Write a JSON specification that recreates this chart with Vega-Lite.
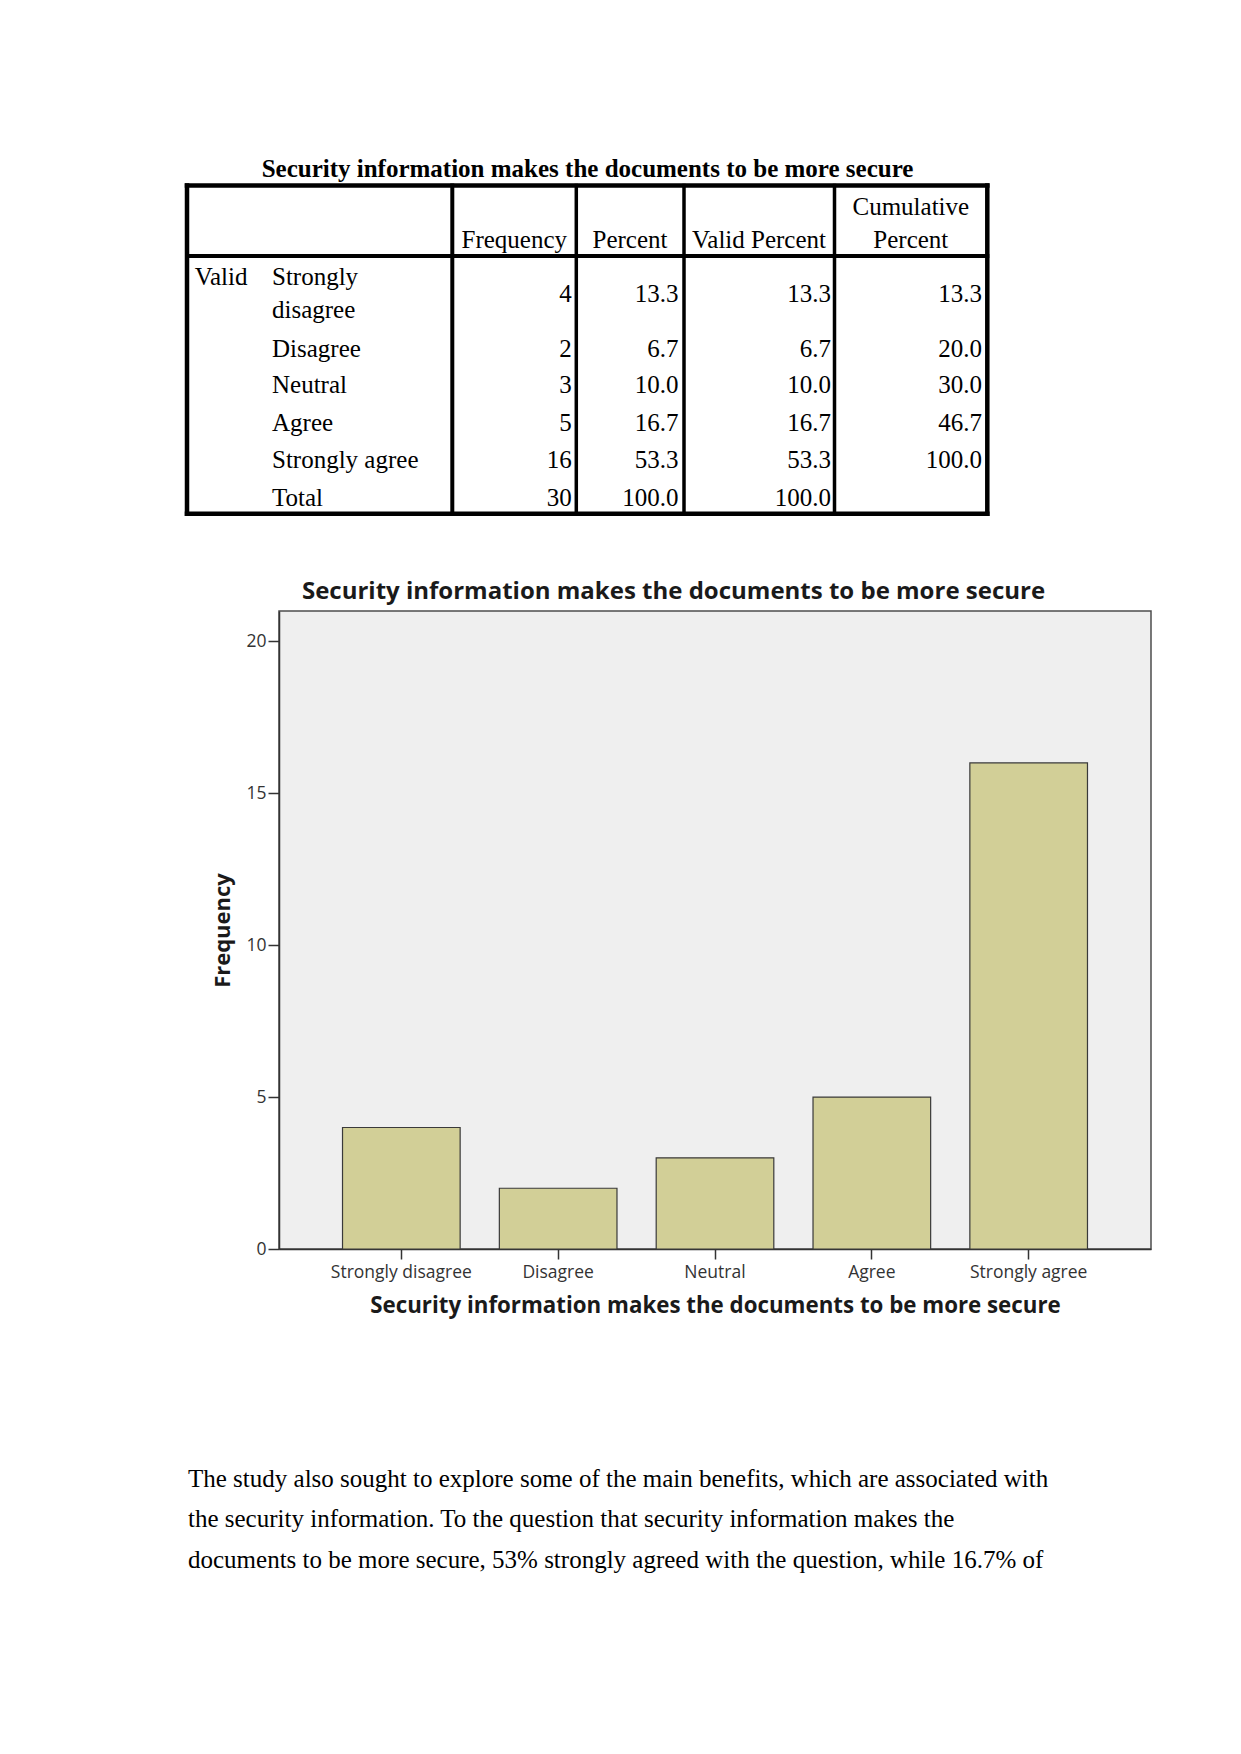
{
  "$schema": "https://vega.github.io/schema/vega-lite/v6.json",
  "width": 872,
  "height": 638,
  "autosize": {"type": "none"},
  "padding": {"left": 279, "top": 611, "right": 90, "bottom": 505},
  "background": "#ffffff",
  "config": {
    "view": {"fill": "#efefef", "stroke": "#4d4d4d", "strokeWidth": 1.5},
    "text": {"font": "Liberation Serif", "fontSize": 25, "color": "#000000"}
  },
  "datasets": {
    "rows": [
      {"answer": "Strongly disagree", "label": "Strongly\ndisagree", "frequency": 4, "percent": 13.3, "valid": 13.3, "cumulative": 13.3},
      {"answer": "Disagree", "label": "Disagree", "frequency": 2, "percent": 6.7, "valid": 6.7, "cumulative": 20.0},
      {"answer": "Neutral", "label": "Neutral", "frequency": 3, "percent": 10.0, "valid": 10.0, "cumulative": 30.0},
      {"answer": "Agree", "label": "Agree", "frequency": 5, "percent": 16.7, "valid": 16.7, "cumulative": 46.7},
      {"answer": "Strongly agree", "label": "Strongly agree", "frequency": 16, "percent": 53.3, "valid": 53.3, "cumulative": 100.0},
      {"answer": "Total", "label": "Total", "frequency": 30, "percent": 100.0, "valid": 100.0, "cumulative": null}
    ],
    "paragraph": [
      {"text": "The study also sought to explore some of the main benefits, which are associated with"},
      {"text": "the security information. To the question that security information makes the"},
      {"text": "documents to be more secure, 53% strongly agreed with the question, while 16.7% of"}
    ]
  },
  "layer": [
    {
      "data": {"name": "rows"},
      "transform": [{"filter": "datum.answer !== 'Total'"}],
      "mark": {"type": "bar", "fill": "#d2cf97", "stroke": "#3a3a3a", "strokeWidth": 1.2},
      "encoding": {
        "x": {
          "field": "answer", "type": "nominal", "sort": null,
          "scale": {"paddingInner": 0.25, "paddingOuter": 0.405},
          "axis": {
            "title": "Security information makes the documents to be more secure",
            "labelAngle": 0, "labelFont": "Open Sans", "labelFontSize": 17.5, "labelColor": "#333333",
            "tickSize": 10, "tickColor": "#333333", "tickWidth": 1.5,
            "domainColor": "#333333", "domainWidth": 1.5, "labelPadding": 4,
            "titleFont": "Open Sans", "titleFontSize": 22.3, "titleFontWeight": "bold", "titleColor": "#1a1a1a", "titlePadding": 14
          }
        },
        "y": {
          "field": "frequency", "type": "quantitative",
          "scale": {"domain": [0, 21], "nice": false},
          "axis": {
            "values": [0, 5, 10, 15, 20], "title": "Frequency", "grid": false,
            "tickSize": 11, "labelPadding": 2, "labelFont": "Open Sans", "labelFontSize": 17.5, "labelColor": "#333333",
            "tickColor": "#333333", "tickWidth": 1.5, "domainColor": "#333333", "domainWidth": 1.5,
            "titleFont": "Open Sans", "titleFontSize": 22, "titleFontWeight": "bold", "titleColor": "#1a1a1a", "titlePadding": 11
          }
        }
      }
    },
    {
      "data": {"values": [{"t": "Security information makes the documents to be more secure"}]},
      "mark": {"type": "text", "align": "center", "baseline": "alphabetic", "font": "Open Sans", "fontSize": 24, "fontWeight": "bold", "color": "#1a1a1a"},
      "encoding": {
        "x": {"datum": 0, "type": "quantitative", "scale": {"domain": [0, 1], "range": [394.5, 872], "nice": false, "zero": false}, "axis": null},
        "y": {"datum": 0, "type": "quantitative", "scale": {"domain": [0, 1], "range": [-12, 0], "nice": false, "zero": false}, "axis": null},
        "text": {"field": "t"}
      }
    },
    {
      "data": {"values": [
        {"edge": "left", "w": "outer"},
        {"edge": "label|frequency", "w": "thick"},
        {"edge": "frequency|percent", "w": "thin"},
        {"edge": "percent|valid percent", "w": "thin"},
        {"edge": "valid percent|cumulative", "w": "thin"},
        {"edge": "right", "w": "outer"}
      ]},
      "transform": [{"window": [{"op": "row_number", "as": "i"}]}],
      "mark": {"type": "rule", "color": "#000000", "strokeCap": "square"},
      "encoding": {
        "x": {"field": "i", "type": "quantitative", "scale": {"domain": [1, 2, 3, 4, 5, 6], "range": [-92, 173.3, 297.3, 405, 555.5, 708.3], "nice": false, "zero": false}, "axis": null},
        "y": {"datum": 0, "type": "quantitative", "scale": {"domain": [0, 1], "range": [-425.5, -97.2], "nice": false, "zero": false}, "axis": null},
        "y2": {"datum": 1},
        "strokeWidth": {"field": "w", "type": "nominal", "scale": {"domain": ["outer", "thick", "thin"], "range": [4.5, 3.5, 2.5]}, "legend": null}
      }
    },
    {
      "data": {"values": [
        {"edge": "top", "w": "outer"},
        {"edge": "header", "w": "thick"},
        {"edge": "bottom", "w": "outer"}
      ]},
      "transform": [{"window": [{"op": "row_number", "as": "i"}]}],
      "mark": {"type": "rule", "color": "#000000", "strokeCap": "square"},
      "encoding": {
        "y": {"field": "i", "type": "quantitative", "scale": {"domain": [1, 2, 3], "range": [-425.5, -355, -97.2], "nice": false, "zero": false}, "axis": null},
        "x": {"datum": 0, "type": "quantitative", "scale": {"domain": [0, 1], "range": [-92, 708.3], "nice": false, "zero": false}, "axis": null},
        "x2": {"datum": 1},
        "strokeWidth": {"field": "w", "type": "nominal", "scale": {"domain": ["outer", "thick", "thin"], "range": [4.5, 3.5, 2.5]}, "legend": null}
      }
    },
    {
      "data": {"values": [{"t": "Security information makes the documents to be more secure"}]},
      "mark": {"type": "text", "align": "center", "baseline": "alphabetic", "fontWeight": "bold"},
      "encoding": {
        "x": {"datum": 6, "type": "quantitative", "scale": {"domain": [0, 1, 2, 3, 4, 5, 6], "range": [-84.3, -7, 292.7, 399.4, 551.9, 703, 308.5], "nice": false, "zero": false}, "axis": null},
        "y": {"datum": 0, "type": "quantitative", "scale": {"domain": [0, 1], "range": [-434.3, -396], "nice": false, "zero": false}, "axis": null},
        "text": {"field": "t"}
      }
    },
    {
      "data": {"values": [{"h": "Frequency"}, {"h": "Percent"}, {"h": "Valid Percent"}, {"h": "Cumulative\nPercent"}]},
      "transform": [{"window": [{"op": "row_number", "as": "i"}]}],
      "mark": {"type": "text", "align": "center", "baseline": "alphabetic", "lineBreak": "\n", "lineHeight": 32.7},
      "encoding": {
        "x": {"field": "i", "type": "quantitative", "scale": {"domain": [1, 2, 3, 4], "range": [235.3, 351, 480, 631.8], "nice": false, "zero": false}, "axis": null},
        "y": {"field": "i", "type": "quantitative", "scale": {"domain": [1, 2, 3, 4], "range": [-363.3, -363.3, -363.3, -396], "nice": false, "zero": false}, "axis": null},
        "text": {"field": "h"}
      }
    },
    {
      "data": {"values": [{"stub": "Valid"}]},
      "mark": {"type": "text", "align": "left", "baseline": "alphabetic"},
      "encoding": {
        "x": {"datum": 0, "type": "quantitative", "scale": {"domain": [0, 1, 2, 3, 4, 5, 6], "range": [-84.3, -7, 292.7, 399.4, 551.9, 703, 308.5], "nice": false, "zero": false}, "axis": null},
        "y": {"datum": 1, "type": "quantitative", "scale": {"domain": [1, 2, 3, 4, 5, 6], "range": [-326, -254.3, -217.7, -180, -142.7, -105], "nice": false, "zero": false}, "axis": null},
        "text": {"field": "stub"}
      }
    },
    {
      "data": {"name": "rows"},
      "transform": [{"window": [{"op": "row_number", "as": "i"}]}],
      "mark": {"type": "text", "align": "left", "baseline": "alphabetic", "lineBreak": "\n", "lineHeight": 33.3},
      "encoding": {
        "x": {"datum": 1, "type": "quantitative", "scale": {"domain": [0, 1, 2, 3, 4, 5, 6], "range": [-84.3, -7, 292.7, 399.4, 551.9, 703, 308.5], "nice": false, "zero": false}, "axis": null},
        "y": {"field": "i", "type": "quantitative", "scale": {"domain": [1, 2, 3, 4, 5, 6], "range": [-326, -254.3, -217.7, -180, -142.7, -105], "nice": false, "zero": false}, "axis": null},
        "text": {"field": "label"}
      }
    },
    {
      "data": {"name": "rows"},
      "transform": [{"window": [{"op": "row_number", "as": "i"}]}],
      "mark": {"type": "text", "align": "right", "baseline": "alphabetic"},
      "encoding": {
        "x": {"datum": 2, "type": "quantitative", "scale": {"domain": [0, 1, 2, 3, 4, 5, 6], "range": [-84.3, -7, 292.7, 399.4, 551.9, 703, 308.5], "nice": false, "zero": false}, "axis": null},
        "y": {"field": "i", "type": "quantitative", "scale": {"domain": [1, 2, 3, 4, 5, 6], "range": [-309.3, -254.3, -217.7, -180, -142.7, -105], "nice": false, "zero": false}, "axis": null},
        "text": {"field": "frequency", "type": "quantitative", "format": "d"}
      }
    },
    {
      "data": {"name": "rows"},
      "transform": [{"window": [{"op": "row_number", "as": "i"}]}],
      "mark": {"type": "text", "align": "right", "baseline": "alphabetic"},
      "encoding": {
        "x": {"datum": 3, "type": "quantitative", "scale": {"domain": [0, 1, 2, 3, 4, 5, 6], "range": [-84.3, -7, 292.7, 399.4, 551.9, 703, 308.5], "nice": false, "zero": false}, "axis": null},
        "y": {"field": "i", "type": "quantitative", "scale": {"domain": [1, 2, 3, 4, 5, 6], "range": [-309.3, -254.3, -217.7, -180, -142.7, -105], "nice": false, "zero": false}, "axis": null},
        "text": {"field": "percent", "type": "quantitative", "format": ".1f"}
      }
    },
    {
      "data": {"name": "rows"},
      "transform": [{"window": [{"op": "row_number", "as": "i"}]}],
      "mark": {"type": "text", "align": "right", "baseline": "alphabetic"},
      "encoding": {
        "x": {"datum": 4, "type": "quantitative", "scale": {"domain": [0, 1, 2, 3, 4, 5, 6], "range": [-84.3, -7, 292.7, 399.4, 551.9, 703, 308.5], "nice": false, "zero": false}, "axis": null},
        "y": {"field": "i", "type": "quantitative", "scale": {"domain": [1, 2, 3, 4, 5, 6], "range": [-309.3, -254.3, -217.7, -180, -142.7, -105], "nice": false, "zero": false}, "axis": null},
        "text": {"field": "valid", "type": "quantitative", "format": ".1f"}
      }
    },
    {
      "data": {"name": "rows"},
      "transform": [{"window": [{"op": "row_number", "as": "i"}]}, {"filter": "datum.cumulative != null"}],
      "mark": {"type": "text", "align": "right", "baseline": "alphabetic"},
      "encoding": {
        "x": {"datum": 5, "type": "quantitative", "scale": {"domain": [0, 1, 2, 3, 4, 5, 6], "range": [-84.3, -7, 292.7, 399.4, 551.9, 703, 308.5], "nice": false, "zero": false}, "axis": null},
        "y": {"field": "i", "type": "quantitative", "scale": {"domain": [1, 2, 3, 4, 5, 6], "range": [-309.3, -254.3, -217.7, -180, -142.7, -105], "nice": false, "zero": false}, "axis": null},
        "text": {"field": "cumulative", "type": "quantitative", "format": ".1f"}
      }
    },
    {
      "data": {"name": "paragraph"},
      "transform": [{"window": [{"op": "row_number", "as": "i"}]}],
      "mark": {"type": "text", "align": "left", "baseline": "alphabetic"},
      "encoding": {
        "x": {"datum": 0, "type": "quantitative", "scale": {"domain": [0, 1], "range": [-91, 781], "nice": false, "zero": false}, "axis": null},
        "y": {"field": "i", "type": "quantitative", "scale": {"domain": [1, 2, 3], "range": [875.7, 916.3, 957.3], "nice": false, "zero": false}, "axis": null},
        "text": {"field": "text"}
      }
    }
  ],
  "resolve": {"scale": {"x": "independent", "y": "independent"}}
}
